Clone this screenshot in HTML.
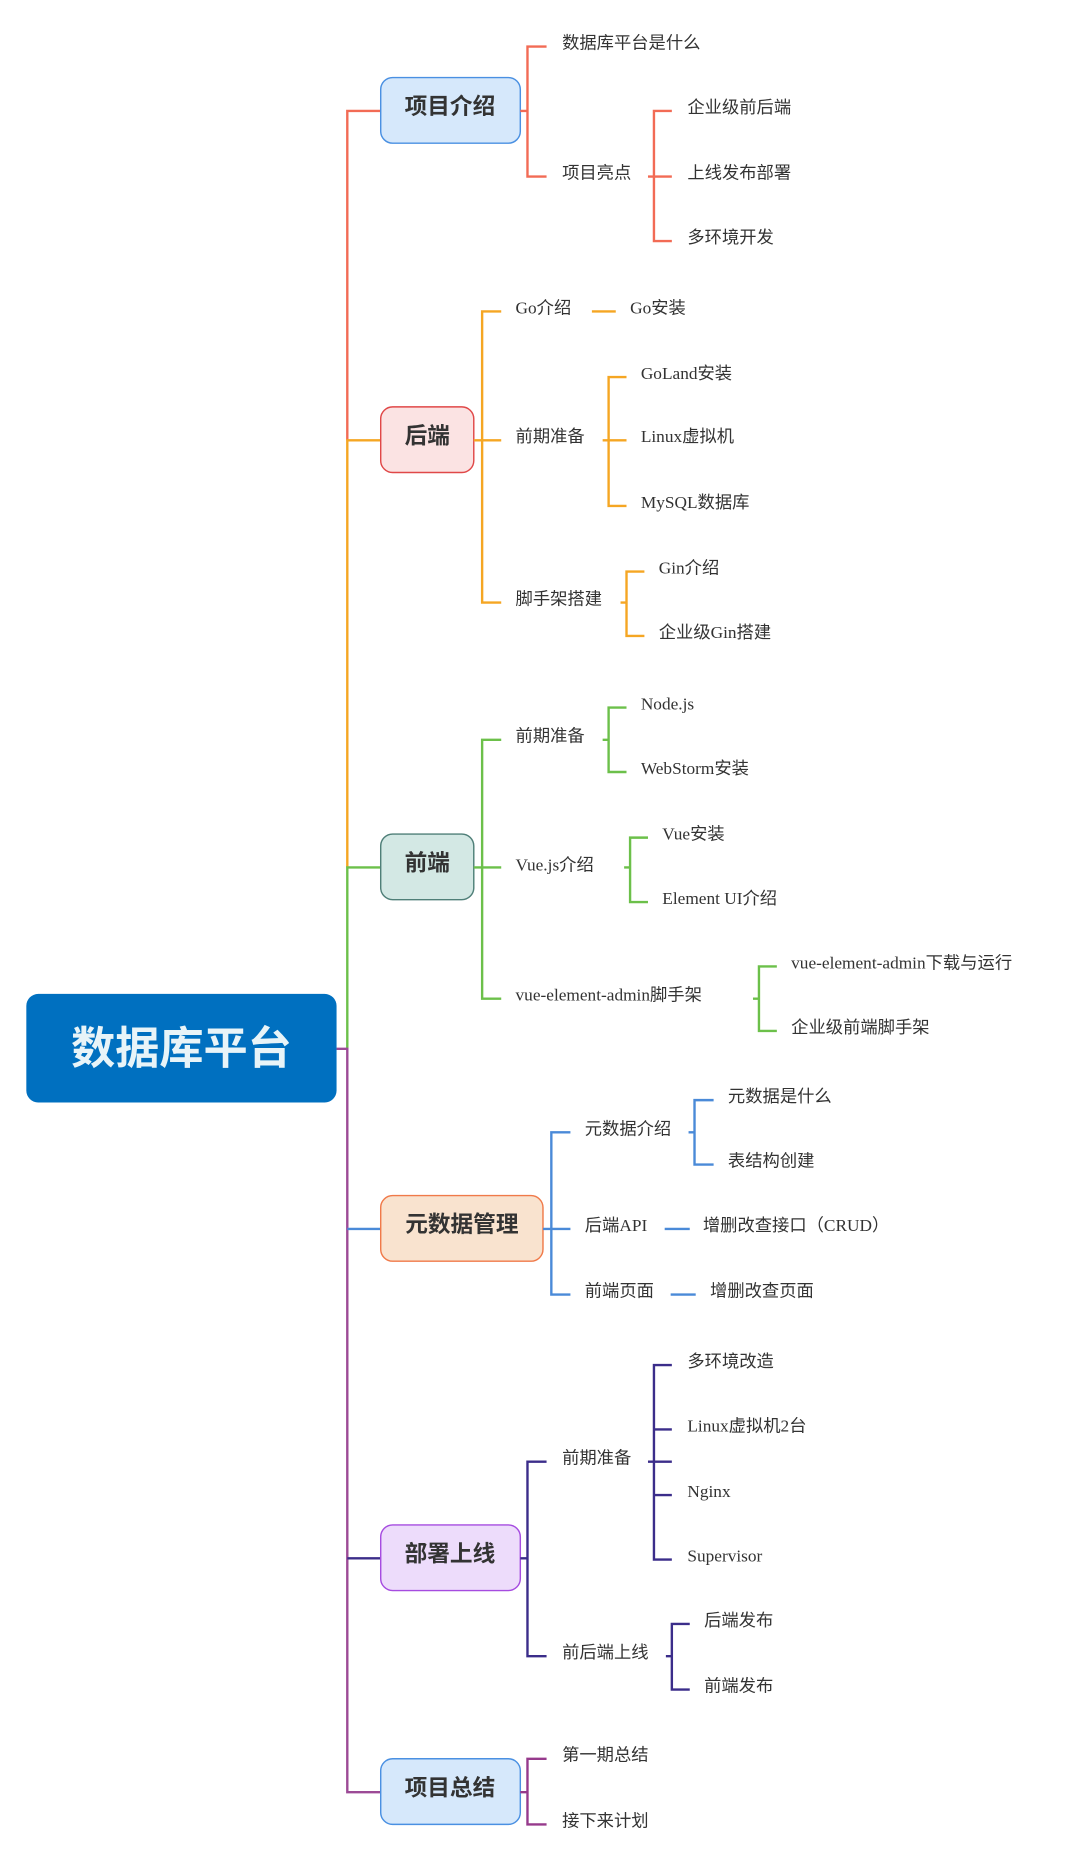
<!DOCTYPE html>
<html><head><meta charset="utf-8"><style>
html,body{margin:0;padding:0;background:#fff;}
svg{display:block;}
.t{font-family:"Liberation Serif","Noto Sans CJK SC",serif;font-size:14.5px;fill:#333;dominant-baseline:central;}
.b{font-family:"Liberation Sans","Noto Sans CJK SC",sans-serif;font-size:19px;font-weight:bold;fill:#333;dominant-baseline:central;text-anchor:middle;}
path{fill:none;stroke-width:2;}
</style></head><body>
<svg width="1080" height="1859" viewBox="0 0 905 1558" xmlns="http://www.w3.org/2000/svg">
<!-- spine -->
<path d="M291 369 V93 H319" stroke="#f26b55"/>
<path d="M291 727 V369 H319" stroke="#f5a623"/>
<path d="M291 879 V727 H319" stroke="#6cc04a"/>
<path d="M282 879 H291 V1502 H319" stroke="#9c4a96"/>
<path d="M291 1030 H319" stroke="#4a8ad8"/>
<path d="M291 1306 H319" stroke="#3b2d8a"/>

<!-- root -->
<rect x="22" y="833" width="260" height="91" rx="10" fill="#0070c0"/>
<text x="152" y="879" style="font-family:'Liberation Sans','Noto Sans CJK SC',sans-serif;font-size:37px;font-weight:bold;fill:#e8f4f8;dominant-baseline:central;text-anchor:middle;">数据库平台</text>

<!-- branch 1 -->
<rect x="319" y="65" width="117" height="55" rx="10" fill="#d6e8fb" stroke="#4a90e2" stroke-width="1.2"/>
<text class="b" x="377" y="89">项目介绍</text>
<path d="M436 93 H442 M458 39 H442 V148 H458" stroke="#f26b55"/>
<text class="t" x="471" y="36">数据库平台是什么</text>
<text class="t" x="471" y="145">项目亮点</text>
<path d="M543 148 H548 M563 93 H548 V202 H563 M548 148 H563" stroke="#f26b55"/>
<text class="t" x="576" y="90">企业级前后端</text>
<text class="t" x="576" y="145">上线发布部署</text>
<text class="t" x="576" y="199">多环境开发</text>

<!-- branch 2 -->
<rect x="319" y="341" width="78" height="55" rx="10" fill="#fbe3e3" stroke="#e04848" stroke-width="1.2"/>
<text class="b" x="358" y="365">后端</text>
<path d="M397 369 H420 M420 261 H404 V505 H420" stroke="#f5a623"/>
<text class="t" x="432" y="258">Go介绍</text>
<text class="t" x="432" y="366">前期准备</text>
<text class="t" x="432" y="502">脚手架搭建</text>
<path d="M496 261 H516" stroke="#f5a623"/>
<text class="t" x="528" y="258">Go安装</text>
<path d="M505 369 H525 M525 316 H510 V424 H525" stroke="#f5a623"/>
<text class="t" x="537" y="313">GoLand安装</text>
<text class="t" x="537" y="366">Linux虚拟机</text>
<text class="t" x="537" y="421">MySQL数据库</text>
<path d="M520 505 H525 M540 479 H525 V533 H540" stroke="#f5a623"/>
<text class="t" x="552" y="476">Gin介绍</text>
<text class="t" x="552" y="530">企业级Gin搭建</text>

<!-- branch 3 -->
<rect x="319" y="699" width="78" height="55" rx="10" fill="#d3e8e4" stroke="#4f7f78" stroke-width="1.2"/>
<text class="b" x="358" y="723">前端</text>
<path d="M397 727 H420 M420 620 H404 V837 H420" stroke="#6cc04a"/>
<text class="t" x="432" y="617">前期准备</text>
<text class="t" x="432" y="725">Vue.js介绍</text>
<text class="t" x="432" y="834">vue-element-admin脚手架</text>
<path d="M505 620 H510 M525 593 H510 V647 H525" stroke="#6cc04a"/>
<text class="t" x="537" y="590">Node.js</text>
<text class="t" x="537" y="644">WebStorm安装</text>
<path d="M523 727 H528 M543 702 H528 V756 H543" stroke="#6cc04a"/>
<text class="t" x="555" y="699">Vue安装</text>
<text class="t" x="555" y="753">Element UI介绍</text>
<path d="M631 837 H636 M651 810 H636 V864 H651" stroke="#6cc04a"/>
<text class="t" x="663" y="807">vue-element-admin下载与运行</text>
<text class="t" x="663" y="861">企业级前端脚手架</text>

<!-- branch 4 -->
<rect x="319" y="1002" width="136" height="55" rx="10" fill="#f9e3cf" stroke="#f07a4a" stroke-width="1.2"/>
<text class="b" x="387" y="1026">元数据管理</text>
<path d="M455 1030 H478 M478 949 H462 V1085 H478" stroke="#4a8ad8"/>
<text class="t" x="490" y="946">元数据介绍</text>
<text class="t" x="490" y="1027">后端API</text>
<text class="t" x="490" y="1082">前端页面</text>
<path d="M577 949 H582 M598 922 H582 V976 H598" stroke="#4a8ad8"/>
<text class="t" x="610" y="919">元数据是什么</text>
<text class="t" x="610" y="973">表结构创建</text>
<path d="M557 1030 H578 M562 1085 H583" stroke="#4a8ad8"/>
<text class="t" x="589" y="1027">增删改查接口（CRUD）</text>
<text class="t" x="595" y="1082">增删改查页面</text>

<!-- branch 5 -->
<rect x="319" y="1278" width="117" height="55" rx="10" fill="#eddcfb" stroke="#a64ce0" stroke-width="1.2"/>
<text class="b" x="377" y="1302">部署上线</text>
<path d="M436 1306 H442 M458 1225 H442 V1388 H458" stroke="#3b2d8a"/>
<text class="t" x="471" y="1222">前期准备</text>
<text class="t" x="471" y="1385">前后端上线</text>
<path d="M543 1225 H563 M563 1144 H548 V1307 H563 M548 1198 H563 M548 1253 H563" stroke="#3b2d8a"/>
<text class="t" x="576" y="1141">多环境改造</text>
<text class="t" x="576" y="1195">Linux虚拟机2台</text>
<text class="t" x="576" y="1250">Nginx</text>
<text class="t" x="576" y="1304">Supervisor</text>
<path d="M558 1388 H563 M578 1361 H563 V1416 H578" stroke="#3b2d8a"/>
<text class="t" x="590" y="1358">后端发布</text>
<text class="t" x="590" y="1413">前端发布</text>

<!-- branch 6 -->
<rect x="319" y="1474" width="117" height="55" rx="10" fill="#d6e8fb" stroke="#4a90e2" stroke-width="1.2"/>
<text class="b" x="377" y="1498">项目总结</text>
<path d="M436 1502 H442 M458 1474 H442 V1529 H458" stroke="#963a8c"/>
<text class="t" x="471" y="1471">第一期总结</text>
<text class="t" x="471" y="1526">接下来计划</text>
</svg>
</body></html>
